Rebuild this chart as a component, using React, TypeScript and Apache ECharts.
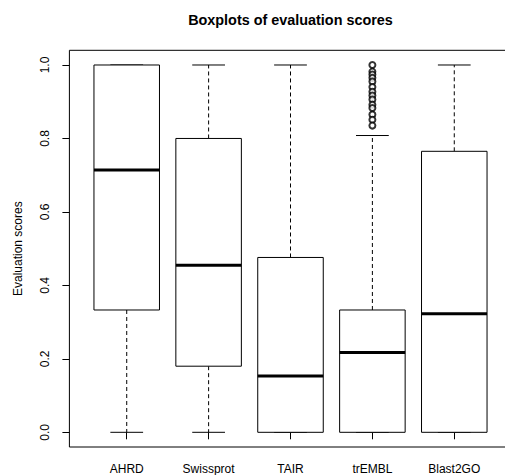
import React, { useEffect, useRef } from "react";
import * as echarts from "echarts";

const categories = ["AHRD", "Swissprot", "TAIR", "trEMBL", "Blast2GO"];
const lowerWhisker = [0, 0, 0, 0, 0];
const q1 = [0.333, 0.18, 0, 0, 0];
const median = [0.714, 0.455, 0.153, 0.217, 0.323];
const q3 = [1.0, 0.8, 0.476, 0.333, 0.765];
const upperWhisker = [1.0, 1.0, 1.0, 0.808, 1.0];
const trEMBLOutliers = [1.0, 0.982, 0.974, 0.965, 0.955, 0.94, 0.927, 0.917, 0.906, 0.892, 0.883, 0.865, 0.851, 0.835];
const yTicks = [0, 0.2, 0.4, 0.6, 0.8, 1.0];

const FONT = "Liberation Sans, Arial, Helvetica, sans-serif";

export default function App() {
  const ref = useRef<HTMLDivElement>(null);
  useEffect(() => {
    if (!ref.current) return;
    const chart = echarts.init(ref.current, null, { renderer: "svg" });
    const positions = categories.map((_, i) => i + 1);
    const boxData = categories.map((_, i) => [
      positions[i], lowerWhisker[i], q1[i], median[i], q3[i], upperWhisker[i],
    ]);
    const outlierData = trEMBLOutliers.map((v) => [4, v]);

    const renderItem = (params: any, api: any) => {
      const x = api.value(0);
      const vMin = api.value(1);
      const vQ1 = api.value(2);
      const vMed = api.value(3);
      const vQ3 = api.value(4);
      const vMax = api.value(5);
      const halfBox = api.size([0.4, 0])[0];
      const halfCap = api.size([0.2, 0])[0];
      const c = api.coord([x, 0])[0];
      const yMin = api.coord([x, vMin])[1];
      const yQ1 = api.coord([x, vQ1])[1];
      const yMed = api.coord([x, vMed])[1];
      const yQ3 = api.coord([x, vQ3])[1];
      const yMax = api.coord([x, vMax])[1];
      const children: any[] = [];
      const dash = { stroke: "#000", lineWidth: 1, lineDash: [4, 3] };
      if (yMin - yQ1 > 0.5) {
        children.push({ type: "line", shape: { x1: c, y1: yQ1, x2: c, y2: yMin }, style: dash });
      }
      if (yQ3 - yMax > 0.5) {
        children.push({ type: "line", shape: { x1: c, y1: yQ3, x2: c, y2: yMax }, style: dash });
      }
      children.push({ type: "line", shape: { x1: c - halfCap, y1: yMin, x2: c + halfCap, y2: yMin }, style: { stroke: "#000", lineWidth: 1 } });
      children.push({ type: "line", shape: { x1: c - halfCap, y1: yMax, x2: c + halfCap, y2: yMax }, style: { stroke: "#000", lineWidth: 1 } });
      children.push({
        type: "rect",
        shape: { x: c - halfBox, y: yQ3, width: halfBox * 2, height: yQ1 - yQ3 },
        style: { fill: "#fff", stroke: "#000", lineWidth: 1 },
      });
      children.push({ type: "line", shape: { x1: c - halfBox, y1: yMed, x2: c + halfBox, y2: yMed }, style: { stroke: "#000", lineWidth: 3 } });
      return { type: "group", children };
    };

    chart.setOption({
      animation: false,
      backgroundColor: "#fff",
      title: {
        text: "Boxplots of evaluation scores",
        left: 290.5,
        top: 13,
        textAlign: "center",
        padding: 0,
        textStyle: { fontSize: 14.4, fontWeight: "bold", color: "#000", fontFamily: FONT },
      },
      grid: {
        left: 69.4,
        top: 50.3,
        width: 442.2,
        height: 396.7,
        show: true,
        borderColor: "#000",
        borderWidth: 1,
        backgroundColor: "transparent",
        containLabel: false,
        outerBoundsMode: "none",
      },
      xAxis: {
        type: "value",
        min: 0.3,
        max: 5.7,
        axisLine: { show: false },
        splitLine: { show: false },
        axisTick: { show: true, length: 7, customValues: positions, lineStyle: { color: "#000" } },
        axisLabel: {
          show: true,
          customValues: positions,
          margin: 16,
          fontSize: 12,
          color: "#000",
          fontFamily: FONT,
          formatter: (v: number) => categories[Math.round(v) - 1] ?? "",
        },
      },
      yAxis: {
        type: "value",
        min: -0.04,
        max: 1.04,
        name: "Evaluation scores",
        nameLocation: "middle",
        nameGap: 45,
        nameRotate: 90,
        nameTextStyle: { fontSize: 12, color: "#000", fontFamily: FONT },
        axisLine: { show: false },
        splitLine: { show: false },
        axisTick: { show: true, length: 7, customValues: yTicks, lineStyle: { color: "#000" } },
        axisLabel: {
          show: true,
          customValues: yTicks,
          rotate: 90,
          margin: 18,
          fontSize: 12,
          color: "#000",
          fontFamily: FONT,
          formatter: (v: number) => v.toFixed(1),
        },
      },
      series: [
        {
          type: "custom",
          renderItem,
          data: boxData,
          encode: { x: 0, y: [1, 2, 3, 4, 5] },
          clip: false,
          z: 2,
        },
        {
          type: "scatter",
          data: outlierData,
          symbol: "emptyCircle",
          symbolSize: 6,
          itemStyle: { color: "#000", borderColor: "#000", borderWidth: 1 },
          z: 3,
        },
      ],
    });
    return () => chart.dispose();
  }, []);
  return (
    <div
      ref={ref}
      style={{ width: 505, height: 475, position: "absolute", left: 0, top: 0 }}
    />
  );
}
